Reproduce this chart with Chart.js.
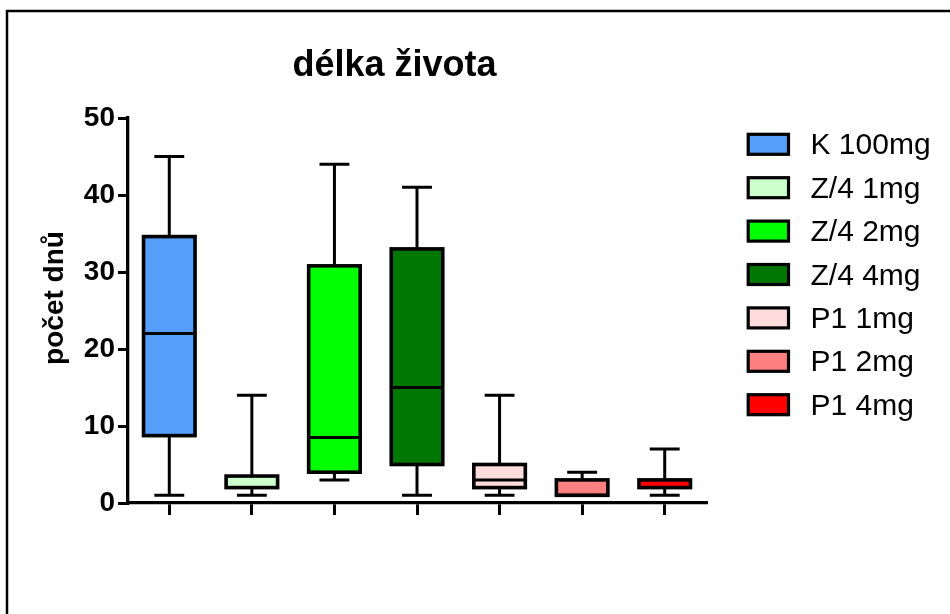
<!DOCTYPE html>
<html lang="cs">
<head>
<meta charset="utf-8">
<title>délka života</title>
<script src="https://cdn.jsdelivr.net/npm/chart.js@4.4.1/dist/chart.umd.min.js"></script>
<style>
  html, body { margin: 0; padding: 0; background: #fff; }
  canvas { display: block; }
</style>
</head>
<body>
<canvas id="chart" width="950" height="614"></canvas>
<script>
// groups and box plot statistics (days)
const groups = ["K 100mg", "Z/4 1mg", "Z/4 2mg", "Z/4 4mg", "P1 1mg", "P1 2mg", "P1 4mg"];
const minValues = [1, 1, 3, 1, 1, 1, 1];
const q1Values = [8.75, 2, 4, 5, 2, 1, 2];
const medianValues = [22, 2, 8.5, 15, 3, 1, 2];
const q3Values = [34.6, 3.5, 30.8, 33, 5, 3, 3];
const maxValues = [45, 14, 44, 41, 14, 4, 7];
const boxColors = ["#559ffa", "#ccffcc", "#00ff00", "#007800", "#ffdcdc", "#ff8080", "#ff0000"];
const yTicks = [0, 10, 20, 30, 40, 50];

const chartTitle = "délka života";
const yTitle = "počet dnů";
const FONT = "'Liberation Sans', Arial, Helvetica, sans-serif";

Chart.defaults.font.family = FONT;
Chart.defaults.color = "#000";

// whiskers, box outlines, medians, frame, title and legend
const boxPlotExtras = {
    id: "boxPlotExtras",
    beforeDatasetsDraw(chart) {
        const ctx = chart.ctx;
        const y = chart.scales.y;
        const bars = chart.getDatasetMeta(0).data;
        ctx.save();
        ctx.strokeStyle = "#000";
        ctx.lineWidth = 3;
        bars.forEach((bar, i) => {
            const capHalf = bar.width * 0.29;
            const yMin = y.getPixelForValue(minValues[i]);
            const yMax = y.getPixelForValue(maxValues[i]);
            ctx.beginPath();
            ctx.moveTo(bar.x, yMax);
            ctx.lineTo(bar.x, yMin);
            ctx.moveTo(bar.x - capHalf, yMax);
            ctx.lineTo(bar.x + capHalf, yMax);
            ctx.moveTo(bar.x - capHalf, yMin);
            ctx.lineTo(bar.x + capHalf, yMin);
            ctx.stroke();
        });
        ctx.restore();
    },
    afterDatasetsDraw(chart) {
        const ctx = chart.ctx;
        const y = chart.scales.y;
        const bars = chart.getDatasetMeta(0).data;
        ctx.save();
        ctx.strokeStyle = "#000";
        bars.forEach((bar, i) => {
            const left = bar.x - bar.width / 2;
            const yQ1 = y.getPixelForValue(q1Values[i]);
            const yQ3 = y.getPixelForValue(q3Values[i]);
            const yMed = y.getPixelForValue(medianValues[i]);
            ctx.lineWidth = 3.6;
            ctx.strokeRect(left, yQ3, bar.width, yQ1 - yQ3);
            ctx.lineWidth = 3;
            ctx.beginPath();
            ctx.moveTo(left, yMed);
            ctx.lineTo(left + bar.width, yMed);
            ctx.stroke();
        });
        ctx.restore();
    },
    afterDraw(chart) {
        const ctx = chart.ctx;
        ctx.save();

        // frame
        ctx.strokeStyle = "#000";
        ctx.lineWidth = 2.5;
        ctx.beginPath();
        ctx.moveTo(7, 614);
        ctx.lineTo(7, 11);
        ctx.lineTo(950, 11);
        ctx.stroke();

        // title
        ctx.fillStyle = "#000";
        ctx.font = "bold 36px " + FONT;
        ctx.textAlign = "center";
        ctx.textBaseline = "alphabetic";
        ctx.fillText(chartTitle, 394.5, 76);

        // y axis title
        ctx.save();
        ctx.translate(63, 298);
        ctx.rotate(-Math.PI / 2);
        ctx.font = "bold 28px " + FONT;
        ctx.fillText(yTitle, 0, 0);
        ctx.restore();

        // legend
        ctx.font = "30px " + FONT;
        ctx.textAlign = "left";
        ctx.textBaseline = "alphabetic";
        ctx.lineWidth = 3.2;
        groups.forEach((name, i) => {
            const top = 134.3 + i * 43.4;
            ctx.fillStyle = boxColors[i];
            ctx.fillRect(748.2, top, 40.3, 20);
            ctx.strokeRect(748.2, top, 40.3, 20);
            ctx.fillStyle = "#000";
            ctx.fillText(name, 810.5, top + 20);
        });

        ctx.restore();
    }
};

const chart = new Chart(document.getElementById("chart"), {
    type: "bar",
    data: {
        labels: groups,
        datasets: [{
            data: groups.map((g, i) => [q1Values[i], q3Values[i]]),
            backgroundColor: boxColors,
            borderWidth: 0,
            barPercentage: 0.624,
            categoryPercentage: 1
        }]
    },
    options: {
        responsive: false,
        animation: false,
        layout: { padding: { top: 118, right: 244, bottom: 91, left: 0 } },
        plugins: {
            legend: { display: false },
            tooltip: { enabled: false }
        },
        scales: {
            x: {
                offset: true,
                afterFit: (scale) => { scale.height = 20; },
                ticks: { display: false },
                grid: {
                    offset: false,
                    drawOnChartArea: false,
                    drawTicks: true,
                    tickLength: 12,
                    lineWidth: 3,
                    color: "#000"
                },
                border: { display: true, color: "#000", width: 3.3 }
            },
            y: {
                min: 0,
                max: 50,
                afterFit: (scale) => { scale.width = 128; },
                afterBuildTicks: (scale) => { scale.ticks = yTicks.map(v => ({ value: v })); },
                ticks: {
                    padding: 3,
                    font: { size: 28, weight: "bold" },
                    color: "#000"
                },
                grid: {
                    drawOnChartArea: false,
                    drawTicks: true,
                    tickLength: 10,
                    lineWidth: 3,
                    color: "#000"
                },
                border: { display: true, color: "#000", width: 3.3 }
            }
        }
    },
    plugins: [boxPlotExtras]
});
</script>
</body>
</html>
